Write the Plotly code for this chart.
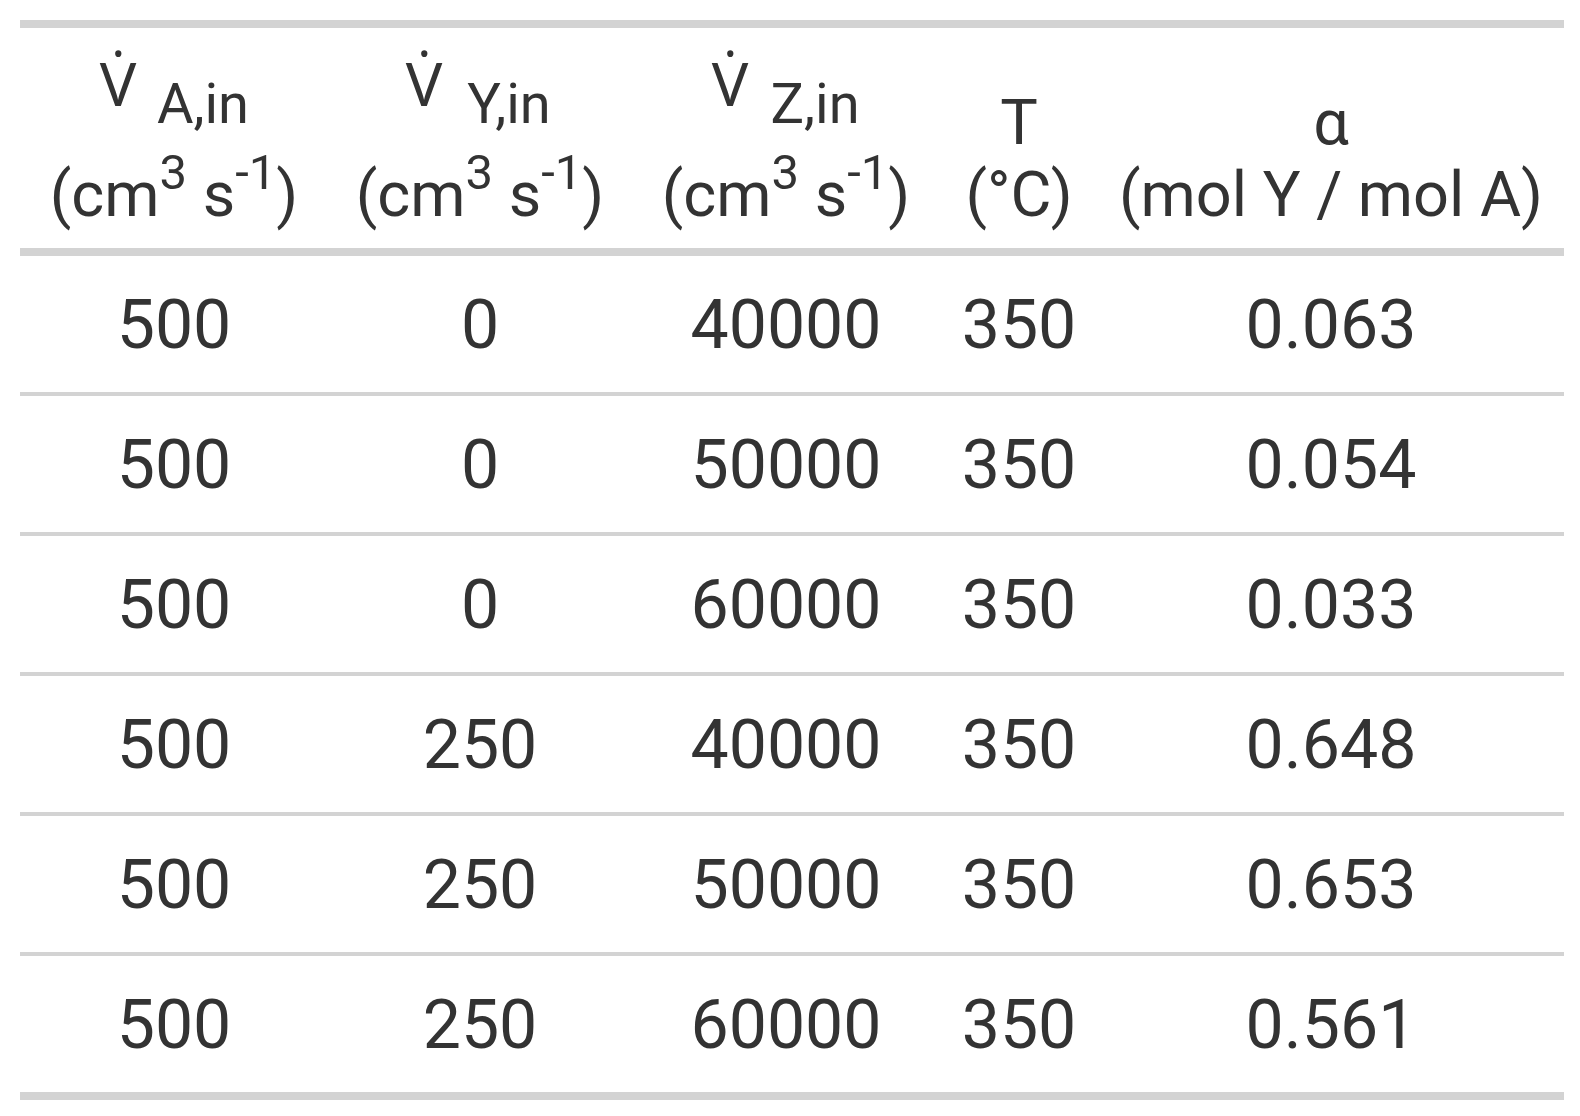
import plotly.graph_objects as go

# table values
va_in = [500, 500, 500, 500, 500, 500]
vy_in = [0, 0, 0, 250, 250, 250]
vz_in = [40000, 50000, 60000, 40000, 50000, 60000]
temp = [350, 350, 350, 350, 350, 350]
alpha = [0.063, 0.054, 0.033, 0.648, 0.653, 0.561]

flow_subs = ["A,in", "Y,in", "Z,in"]
plain_heads = ["T", "α"]
SUP = "<sup><span style='font-size:49px'>{}</span></sup>"
flow_unit = "(cm" + SUP.format("3") + " s" + SUP.format("-1") + ")"
units = [flow_unit, flow_unit, flow_unit, "(°C)", "(mol Y / mol A)"]

# layout in page pixels (the page body has an 8px margin)
W, H = 1580, 1116
PAD = 8
LEFT, RIGHT = 20, 1564
COL_X = [174, 480, 786, 1019, 1331]
ROW_TOP = 254
ROW_H = 140
FS_BODY = 68
FS_HEAD = 63
TXT = "#333333"
GRID = "#D3D3D3"
FONT = "Roboto"

columns = [
    [str(v) for v in va_in],
    [str(v) for v in vy_in],
    [str(v) for v in vz_in],
    [str(v) for v in temp],
    [f"{v:.3f}" for v in alpha],
]
n_rows = len(va_in)
row_base = [ROW_TOP + ROW_H * (i + 0.5) + 31 for i in range(n_rows)]


def text_trace(x, y, text, size, family=FONT):
    # y is roughly the baseline
    return go.Scatter(
        x=x, y=[b - 0.35 * size for b in y], text=text,
        mode="text", textposition="middle center",
        textfont=dict(family=family, size=size, color=TXT),
        hoverinfo="skip", showlegend=False,
    )


fig = go.Figure()

# body cells
for cx, vals in zip(COL_X, columns):
    fig.add_trace(text_trace([cx] * n_rows, row_base, vals, FS_BODY))

# header line 1: flow rates V-dot with subscript
for cx, sub in zip(COL_X[:3], flow_subs):
    fig.add_trace(text_trace([cx - 56], [112], ["V\u0307"], 61, "Noto Sans"))
    fig.add_trace(text_trace([cx + 29], [129], [sub], 56))
for cx, head in zip(COL_X[3:], plain_heads):
    fig.add_trace(text_trace([cx], [150], [head], FS_HEAD))

# header line 2: units
for cx, u in zip(COL_X, units):
    fig.add_trace(text_trace([cx], [222], [u], FS_HEAD))

# horizontal rules
rules = [(24, 8), (ROW_TOP - 2, 8)]
rules += [(ROW_TOP + ROW_H * (i + 1), 4) for i in range(n_rows - 1)]
rules += [(ROW_TOP + ROW_H * n_rows + 2, 8)]
for y, w in rules:
    fig.add_shape(type="line", xref="x", yref="y", x0=LEFT, x1=RIGHT,
                  y0=y, y1=y, line=dict(color=GRID, width=w))

fig.update_layout(
    width=W - 2 * PAD, height=H - 2 * PAD,
    margin=dict(l=0, r=0, t=0, b=0),
    paper_bgcolor="white", plot_bgcolor="white",
    xaxis=dict(range=[PAD, W - PAD], visible=False, fixedrange=True),
    yaxis=dict(range=[H - PAD, PAD], visible=False, fixedrange=True),
)

fig.write_html("out.html")
